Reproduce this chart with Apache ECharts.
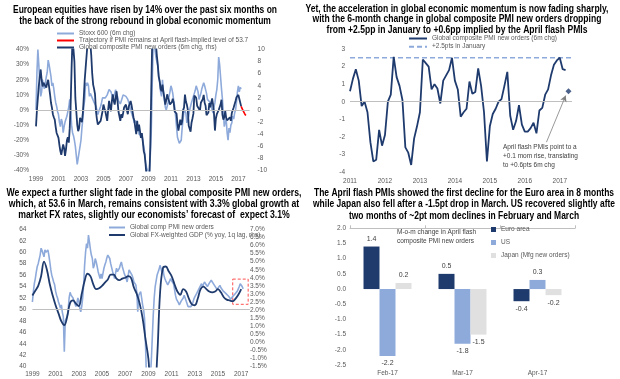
<!DOCTYPE html>
<html><head><meta charset="utf-8">
<script src="https://cdn.jsdelivr.net/npm/echarts@6/dist/echarts.min.js"></script>
<style>html,body{margin:0;padding:0;background:#fff}#c{width:620px;height:379px}</style>
</head><body><div id="c"></div>
<script>
// ---------- DATA ----------
// Panel 1: Stoxx 600 6m % change, monthly Jan-1999 .. Apr-2017
const stoxx6mChg = [
 0,25,40,30,18,9,12,20,16,14,18,22,
 25,33,30,26,22,16,18,14,9,5,2.5,-1,
 -3,-8,-11,-6,-8,-15,-11,-8,-6,-4,-3,2,
 7,0,-10,-15,-17,-20,-24,-30,-36,-32,-28,-24,
 -20,-12,-6,2,7,18,16,18,16,9,11,10,
 8,7,5,4,2.5,0,-3,-1,0,2.5,5,8,
 8,9,8,7,10,11,13.5,14,12,10,7,9,
 11,13.5,11,9,6,5,4,6,8,10,11,10,
 9,8,7,5,3,0,-2,-3,-6,-8.5,-7,-6,
 -10,-13,-16,-17,-15,-17,-20,-24,-28,-35,-38,-40,
 -42,-40,-30,-15,15,42,46,40,35,32,29,22,
 18,12,9,20,12,7,2,0,2.5,5,9,12,
 16,14,11,6,2.5,-4,-11,-18,-20,-22,-21,-20,
 -12,-6,0,-1,-2,-8.5,-6,-4,0,2.5,5,7,
 9,11,13,16,14,12,7,9,11,14,16,18,
 16,13.5,11,7,8,7,5,2.5,0,-2,2,5,
 10,13.5,20,35,30,22,14,7,-2,-11,-8,-6,
 -15,-20,-12,-15,-10,-8.5,-4,-6,-2,0,5,12,
 16,12,15,14
];
// Global composite PMI new orders, 6m change (pts), monthly Jan-1999 .. Mar-2017
const pmiNewOrders6mChg = [
 -2.7,0,2.0,4,5.5,6.7,5,3.9,4.5,4.8,4.2,3.7,
 4.5,5.0,3.8,2.6,1.2,0.4,-0.7,-1.2,-1.6,-2.8,-3.8,-4.2,
 -4.6,-5.8,-6.8,-7.4,-6.5,-5.7,-6.3,-7.6,-6.5,-5,-4.5,-5.4,
 -3,1,7,12,12,8,2,-0.2,-2.4,-3.5,-3,-1.3,
 -1.3,-2,-0.5,2,5,7,9,11,12,12,11,9,
 6,4.2,3.5,2.6,-0.2,-1.5,-2.4,-2.7,-2.2,-1.8,-1,-0.2,
 0.9,0.3,-0.2,-1.0,-1.8,0,1.5,0.5,-0.2,1.5,2.6,1.5,
 0.9,2,3.1,1.5,-0.2,-1,-1.8,-0.7,-1.3,-0.5,0.4,0.6,
 0.9,0,-0.7,0.6,1,1.5,0.8,-0.2,-1.2,-1.8,-2.9,-4,
 -1.8,-3.5,-2.4,-3.5,-4.6,-3.8,-5.2,-6.8,-7.4,-9,-11,-13,
 -13,-11.5,-6,3,11,14,14,13,11,9,7.5,5.5,
 4.8,3.5,3.1,4.2,3,2,0.9,1.6,2.6,2,1.5,0.9,
 0.6,1.3,1.85,1.2,-0.25,0.0,-0.6,-2.3,-3.4,-3.3,-1.6,-2.5,
 -1.9,0.0,0.4,2.55,1.4,0.9,0.1,-2.6,-2.9,-3.6,-2.1,-1.4,
 -0.6,2.4,2.2,2.0,0.7,1.0,0.75,-0.1,1.2,1.5,1.8,2.5,
 1.2,0.7,-0.85,-0.6,-0.4,1.15,0.45,0.55,1.9,0.9,-0.6,-3.4,
 -1.4,-0.7,-0.4,0.0,0.15,0.9,1.7,-0.8,-1.6,-1.1,-0.2,-1.3,
 -1.7,-1.7,-1.5,-1.2,-1.8,-0.5,-0.35,0.4,0.7,1.5,2.1,2.35,
 2.5,1.85,1.8
];
const aprilFlash6mChg = 0.6;            // Apr-2017 implied by flash PMIs
const januaryLevel = 2.5;               // +2.5pts in January
const trajectory6mChg = [0.6,0.3,-0.1,-0.4,-0.7,-0.9]; // Apr..Sep 2017
// Panel 3: Global composite PMI new orders level, monthly Jan-1999 .. Mar-2017
const pmiNewOrdersLevel = [
 51.3,53.1,54.5,55.4,56.5,57.5,58.0,58.3,59.5,60.7,60.3,60.1,
 59.2,60.4,60.0,59.8,60.4,59.5,58.3,57.0,56.0,55.4,54.8,54.3,
 53.2,52.5,52.0,51.3,50.8,50.2,50.8,49.5,48.7,42.6,48.0,48.4,
 48.8,50.0,52.0,53.0,52.5,52.8,52.0,51.5,51.3,50.5,51.0,52.0,
 51.5,50.2,49.6,50.5,52.0,54.3,57.7,60.0,61.5,60.7,63.0,61.8,
 60.5,59.5,58.9,57.2,57.7,58.9,58.3,57.5,56.6,56.0,55.4,56.2,
 55.4,56.3,57.2,57.8,58.3,59.0,59.5,59.2,58.9,58.0,57.7,56.6,
 56.0,55.4,56.3,57.2,56.6,56.8,57.2,57.8,58.3,57.5,57.2,56.3,
 56.0,55.4,54.8,55.8,56.9,57.2,57.0,56.0,55.5,54.8,54.5,54.3,
 53.0,49.6,52.5,52.5,53.1,52.0,50.8,50.0,48.4,44.0,38.0,36.0,
 35.0,36.0,38.0,41.0,45.0,49.0,52.0,54.0,55.0,56.0,56.5,57.0,
 57.7,57.2,56.5,57.2,56.0,55.4,55.0,54.8,54.3,54.6,55.0,55.4,
 55.0,54.8,54.5,53.5,52.5,51.8,51.5,51.2,50.8,51.0,51.5,51.8,
 52.0,52.5,52.0,51.5,51.0,50.5,50.2,50.2,50.5,50.8,51.2,51.8,
 52.2,52.5,52.8,53.0,53.5,53.2,53.8,54.5,54.0,54.3,54.8,55.0,
 54.5,54.0,54.3,54.6,54.8,55.1,55.3,54.8,54.3,54.6,54.0,53.5,
 53.3,53.8,54.2,53.8,53.6,53.3,53.5,53.1,52.8,52.6,52.5,52.3,
 52.0,51.8,52.1,52.2,52.0,52.3,52.8,53.0,53.2,53.6,54.0,54.5,
 54.3,54.0,53.6
];
// Global FX-weighted GDP % yoy (1q lag), quarterly 1999Q1 .. 2017Q1
const gdpYoy = [
 2.9,3.2,3.5,4.1, 5.0,4.5,3.6,2.9, 2.3,1.8,1.3,1.07, 1.6,2.45,2.6,2.4,
 2.25,3.0,3.8,4.25, 4.1,3.6,3.3,3.35, 3.5,3.7,3.9,4.2, 4.2,3.95,3.85,3.95,
 4.0,4.1,4.0,3.4, 3.0,2.4,1.5,0.2, -1.0,-3.0,-3.0,-1.0, 3.0,4.6,4.7,4.4,
 4.1,3.6,3.15,2.95, 3.3,3.15,2.7,2.35, 2.3,2.7,3.3,3.45, 3.3,3.15,3.1,3.15,
 3.3,3.1,2.8,2.65, 2.6,2.55,2.7,2.95, 3.3
];
// Panel 4: m-o-m change in April flash composite PMI new orders
const barCategories = ['Feb-17','Mar-17','Apr-17'];
const euroArea = [1.4, 0.5, -0.4];
const us = [-2.2, -1.8, 0.3];
const japan = [0.2, -1.5, -0.2];

// ---------- HELPERS ----------
const monthly = (arr, y0) => arr.map((v,i)=>[y0 + i/12, v]);
const quarterly = (arr, y0) => arr.map((v,i)=>[y0 + i/4, v]);
const NAVY = '#1f3b6e', LIGHT = '#8eaadb', GREY = '#e0e0e0', RED = '#ff0000';
const F = "'Liberation Sans',Arial,sans-serif";
const SMALL = 6.5;
const AX = {fontSize: SMALL, color: '#595959', fontFamily: F};
const zeroLine = v => ({silent:true, symbol:'none', label:{show:false},
  lineStyle:{color:'#bfbfbf', width:1, type:'solid'}, data:[{yAxis:v}]});
const oddYears = v => (Number.isInteger(v) && Math.abs(v % 2) === 1) ? String(v) : '';
const intYears = v => Number.isInteger(v) ? String(v) : '';
const hide = {axisLine:{show:false}, axisTick:{show:false}, splitLine:{show:false}};

const pmiPanel1 = monthly(pmiNewOrders6mChg, 1999).concat([[2017 + 3/12, aprilFlash6mChg]]);
const pmiPanel2 = monthly(pmiNewOrders6mChg, 1999).filter(p => p[0] >= 2011 - 1e-9);

// title blocks: horizontally condensed to the width seen in the picture
const titleFont = 'bold 10px ' + F;
const mctx = document.createElement('canvas').getContext('2d');
mctx.font = titleFont;
function title(text, cx, y, targetW, lh) {
  const w = Math.max(...text.split('\n').map(s => mctx.measureText(s).width));
  return {type:'text', x:cx, y:y, scaleX: targetW / w, scaleY: 1,
    style:{text:text, font:titleFont, textAlign:'center', lineHeight:lh, fill:'#000'}};
}
const lineLegend = {itemStyle:{opacity:0}, textStyle:Object.assign({lineHeight:6}, AX)};

const chart = echarts.init(document.getElementById('c'), null, {renderer:'canvas'});
const option = {
  backgroundColor: '#fff',
  animation: false,
  graphic: [
    title('European equities have risen by 14% over the past six months on\nthe back of the strong rebound in global economic momentum', 145, 4, 264, 11.5),
    title('Yet, the acceleration in global economic momentum is now fading sharply,\nwith the 6-month change in global composite PMI new orders dropping\nfrom +2.5pp in January to +0.6pp implied by the April flash PMIs', 457, 3.5, 303, 10.6),
    title('We expect a further slight fade in the global composite PMI new orders,\nwhich, at 53.6 in March, remains consistent with 3.3% global growth at\nmarket FX rates, slightly our economists\u2019 forecast of  expect 3.1%', 154, 187.5, 295, 11),
    title('The April flash PMIs showed the first decline for the Euro area in 8 months\nwhile Japan also fell after a -1.5pt drop in March. US recovered slightly afte\ntwo months of ~2pt mom declines in February and March', 464, 187.5, 302, 11.3),
    {type:'text', x:503, y:143, style:{text:'April flash PMIs point to a\n+0.1 mom rise, translating\nto +0.6pts 6m chg', font:SMALL + 'px ' + F, lineHeight:8.8, fill:'#404040'}},
    {type:'text', x:397, y:228, style:{text:'M-o-m change in April flash\ncomposite PMI new orders', font:SMALL + 'px ' + F, lineHeight:8.5, fill:'#404040'}}
  ],
  legend: [
    Object.assign({orient:'vertical', left:51, top:25, itemWidth:17, itemHeight:6, itemGap:0,
     data:['Stoxx 600 (6m chg)','Trajectory if PMI remains at April flash-implied level of 53.7','Global composite PMI new orders (6m chg, rhs)']}, lineLegend),
    Object.assign({orient:'vertical', left:403, top:30, itemWidth:18, itemHeight:6, itemGap:1.2,
     data:['Global composite PMI new orders (6m chg)','+2.5pts in January']}, lineLegend),
    Object.assign({orient:'vertical', left:103, top:219, itemWidth:16, itemHeight:6, itemGap:0.5,
     data:['Global comp PMI new orders','Global FX-weighted GDP (% yoy, 1q lag, rhs)']}, lineLegend),
    {orient:'vertical', left:486, top:221, itemWidth:5, itemHeight:5, itemGap:6, icon:'rect',
     textStyle:Object.assign({lineHeight:6}, AX),
     data:['Euro area','US','Japan (Mfg new orders)']}
  ],
  grid: [
    {left:36, top:49.5, width:213.6, height:121},
    {left:350, top:49, width:222, height:123},
    {left:32.4, top:229.3, width:217.5, height:137.4},
    {left:350, top:228.3, width:225, height:136.7}
  ],
  xAxis: [
    Object.assign({type:'value', gridIndex:0, min:1999, max:2018, interval:1,
      axisLabel:Object.assign({formatter:oddYears, margin:5}, AX)}, hide),
    Object.assign({type:'value', gridIndex:1, min:2011, max:2017.35, interval:1,
      axisLabel:Object.assign({formatter:intYears, margin:6}, AX)}, hide),
    Object.assign({type:'value', gridIndex:2, min:1999, max:2017.75, interval:1,
      axisLabel:Object.assign({formatter:oddYears, margin:4}, AX)}, hide),
    Object.assign({type:'category', gridIndex:3, data:barCategories,
      axisLabel:Object.assign({margin:5}, AX)}, hide),
    {type:'category', gridIndex:3, data:barCategories, axisLabel:{show:false},
      axisLine:{show:true, onZero:true, lineStyle:{color:'#bfbfbf', width:1}},
      axisTick:{show:true, length:3, lineStyle:{color:'#bfbfbf'}}, splitLine:{show:false}}
  ],
  yAxis: [
    Object.assign({type:'value', gridIndex:0, min:-40, max:40, interval:10,
      axisLabel:Object.assign({formatter:v=>v+'%', margin:7}, AX)}, hide),
    Object.assign({type:'value', gridIndex:0, min:-10, max:10, interval:2, position:'right',
      axisLabel:Object.assign({margin:8}, AX)}, hide),
    Object.assign({type:'value', gridIndex:1, min:-4, max:3, interval:1,
      axisLabel:Object.assign({margin:5}, AX)}, hide),
    Object.assign({type:'value', gridIndex:2, min:40, max:64, interval:2,
      axisLabel:Object.assign({margin:6}, AX)}, hide),
    Object.assign({type:'value', gridIndex:2, min:-1.5, max:7, interval:0.5, position:'right',
      axisLabel:Object.assign({formatter:v=>v.toFixed(1)+'%', margin:0}, AX)}, hide),
    Object.assign({type:'value', gridIndex:3, min:-2.5, max:2, interval:0.5,
      axisLabel:Object.assign({formatter:v=>v.toFixed(1), margin:4}, AX)}, hide)
  ],
  series: [
    // Panel 1
    {name:'Stoxx 600 (6m chg)', type:'line', xAxisIndex:0, yAxisIndex:0, data:monthly(stoxx6mChg,1999),
     symbol:'none', lineStyle:{color:LIGHT, width:1.6}, itemStyle:{color:LIGHT}, markLine:zeroLine(0)},
    {name:'Global composite PMI new orders (6m chg, rhs)', type:'line', xAxisIndex:0, yAxisIndex:1, data:pmiPanel1,
     symbol:'none', lineStyle:{color:NAVY, width:1.8}, itemStyle:{color:NAVY}},
    {name:'Trajectory if PMI remains at April flash-implied level of 53.7', type:'line', xAxisIndex:0, yAxisIndex:1,
     data:monthly(trajectory6mChg, 2017 + 3/12),
     symbol:'none', lineStyle:{color:RED, width:1.6}, itemStyle:{color:RED}},
    // Panel 2
    {name:'+2.5pts in January', type:'line', xAxisIndex:1, yAxisIndex:2,
     data:[[2011, januaryLevel],[2017.35, januaryLevel]], symbol:'none',
     lineStyle:{color:LIGHT, width:1.6, type:[5,3]}, itemStyle:{color:LIGHT}, markLine:zeroLine(0)},
    {name:'Global composite PMI new orders (6m chg)', type:'line', xAxisIndex:1, yAxisIndex:2, data:pmiPanel2,
     symbol:'none', lineStyle:{color:NAVY, width:1.8}, itemStyle:{color:NAVY}},
    {name:'April flash', type:'scatter', xAxisIndex:1, yAxisIndex:2, data:[[2017 + 3/12, aprilFlash6mChg]],
     symbol:'diamond', symbolSize:6, itemStyle:{color:NAVY},
     markLine:{silent:true, symbol:['none','arrow'], symbolSize:[5,6], label:{show:false},
       lineStyle:{color:'#7f7f7f', width:0.8, type:'solid'},
       data:[[{coord:[2016.62,-2.3]},{coord:[2017.17,0.35]}]]}},
    // Panel 3
    {name:'Global comp PMI new orders', type:'line', xAxisIndex:2, yAxisIndex:3, data:monthly(pmiNewOrdersLevel,1999),
     symbol:'none', lineStyle:{color:LIGHT, width:1.6}, itemStyle:{color:LIGHT}, markLine:zeroLine(50),
     markArea:{silent:true, itemStyle:{color:'rgba(0,0,0,0)', borderColor:'#ff5050', borderWidth:1, borderType:[3,2]},
       data:[[{coord:[2016.27,55.3]},{coord:[2017.6,50.9]}]]}},
    {name:'Global FX-weighted GDP (% yoy, 1q lag, rhs)', type:'line', xAxisIndex:2, yAxisIndex:4, data:quarterly(gdpYoy,1999),
     smooth:0.4, symbol:'none', lineStyle:{color:NAVY, width:1.8}, itemStyle:{color:NAVY}},
    // Panel 4
    ...[['Euro area', euroArea, NAVY], ['US', us, LIGHT], ['Japan (Mfg new orders)', japan, GREY]].map(([n, arr, c]) => ({
      name:n, type:'bar', xAxisIndex:3, yAxisIndex:5, barWidth:16, barGap:'0%', itemStyle:{color:c},
      data: arr.map(v => ({value:v, label:{position: v >= 0 ? 'top' : 'bottom'}})),
      label:{show:true, distance:4, formatter:p => p.value.toFixed(1), fontSize:7, color:'#404040', fontFamily:F}
    }))
  ]
};
chart.setOption(option);
</script></body></html>
